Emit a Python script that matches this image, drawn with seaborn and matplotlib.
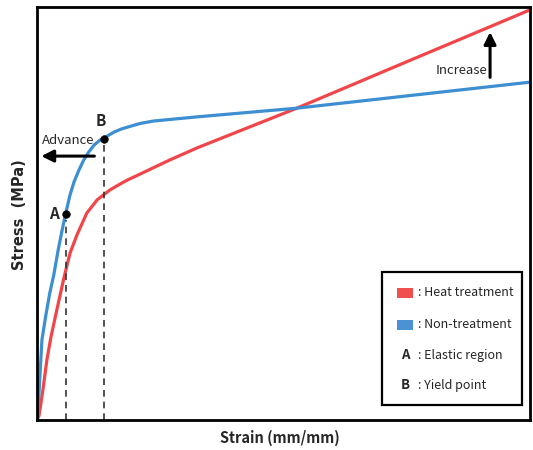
import matplotlib
matplotlib.use("Agg")
import matplotlib.pyplot as plt
from matplotlib.patches import Rectangle
import seaborn as sns
import pandas as pd

sns.set_theme(style="white")
plt.rcParams['font.family'] = ['Noto Sans CJK KR', 'DejaVu Sans']

# Heat treatment curve (normalized strain, normalized stress)
heat_strain = [0.0, 0.4, 1.2, 2.0, 2.8, 3.7, 4.7, 5.5, 6.7, 8.1, 10.1, 12.2, 13.6, 14.8,
               16.8, 18.5, 20.3, 27.0, 32.5, 52.7, 76.3, 100.0]
heat_stress = [0.0, 1.0, 7.3, 14.5, 19.9, 24.9, 30.3, 34.6, 40.4, 44.8, 50.1, 53.3, 54.6, 55.7,
               57.1, 58.2, 59.2, 63.0, 65.9, 75.5, 87.4, 99.3]

# Non-treatment curve
non_strain = [0.0, 0.2, 0.4, 1.0, 1.8, 2.6, 3.4, 4.3, 5.1, 5.8, 6.7, 7.5, 8.5, 9.5, 10.5,
              11.6, 12.6, 13.6, 15.6, 17.2, 18.9, 20.9, 23.7, 32.5, 52.7, 100.0]
non_stress = [0.0, 2.4, 6.5, 19.4, 25.4, 30.8, 35.1, 41.2, 46.0, 49.9, 54.5, 57.6, 60.5, 63.0,
              64.9, 66.6, 67.6, 68.3, 69.7, 70.5, 71.1, 71.8, 72.4, 73.4, 75.5, 81.8]

# Marked points
point_labels = ["A", "B"]
point_strain = [5.8, 13.6]
point_stress = [49.9, 68.1]

legend_labels = [": Heat treatment", ": Non-treatment", ": Elastic region", ": Yield point"]

red = "#f0464a"
blue = "#3d8fd1"

df = pd.concat([
    pd.DataFrame({"strain": heat_strain, "stress": heat_stress, "series": "Heat treatment"}),
    pd.DataFrame({"strain": non_strain, "stress": non_stress, "series": "Non-treatment"}),
])

fig = plt.figure(figsize=(5.33, 4.5), dpi=100)
ax = fig.add_axes([37/533, 30/450, 493/533, 413/450])

sns.lineplot(data=df, x="strain", y="stress", hue="series",
             palette={"Heat treatment": red, "Non-treatment": blue},
             linewidth=2.3, legend=False, ax=ax, sort=False)

ax.set_xlim(0, 100)
ax.set_ylim(0, 100)
ax.set_xticks([])
ax.set_yticks([])
for s in ax.spines.values():
    s.set_linewidth(2.0)
    s.set_color("black")

# dashed drop lines and points
for xs, ys in zip(point_strain, point_stress):
    ax.vlines(xs, 0, ys - 1.5, colors="#333333", linestyles=(0, (4, 3)), linewidth=1.2)
sns.scatterplot(x=point_strain, y=point_stress, color="black", s=30, ax=ax, zorder=5,
                edgecolor="black", legend=False)

ax.text(point_strain[0] - 1.4, point_stress[0], point_labels[0], ha="right", va="center",
        fontsize=11, fontweight="bold")
ax.text(point_strain[1] - 0.6, point_stress[1] + 4.2, point_labels[1], ha="center", va="center",
        fontsize=11, fontweight="bold")

# Advance arrow
ax.text(6.3, 67.6, "Advance", ha="center", va="center", fontsize=9.5)
ax.annotate("", xy=(0.3, 63.9), xytext=(12.2, 63.9),
            arrowprops=dict(arrowstyle="-|>,head_length=0.6,head_width=0.3", color="black", lw=2.2))

# Increase arrow
ax.text(86.0, 84.7, "Increase", ha="center", va="center", fontsize=9.5)
ax.annotate("", xy=(91.9, 94.6), xytext=(91.9, 82.3),
            arrowprops=dict(arrowstyle="-|>,head_length=0.6,head_width=0.3", color="black", lw=2.2))

# Legend box (axes fraction coordinates)
ax.add_patch(Rectangle((0.700, 0.036), 0.284, 0.322, transform=ax.transAxes,
                       facecolor="white", edgecolor="black", linewidth=1.6, zorder=6))
rows_y = [(420 - 293) / 413, (420 - 325) / 413, (420 - 355) / 413, (420 - 385) / 413]
ax.add_patch(Rectangle(((397 - 37) / 493, rows_y[0] - 0.012), 16 / 493, 0.024,
                       transform=ax.transAxes, facecolor="#f05050", edgecolor="none", zorder=7))
ax.add_patch(Rectangle(((397 - 37) / 493, rows_y[1] - 0.012), 16 / 493, 0.024,
                       transform=ax.transAxes, facecolor="#4a92d2", edgecolor="none", zorder=7))
ax.text((405 - 37) / 493, rows_y[2], point_labels[0], transform=ax.transAxes, ha="center",
        va="center", fontsize=9.5, fontweight="bold", zorder=7)
ax.text((405 - 37) / 493, rows_y[3], point_labels[1], transform=ax.transAxes, ha="center",
        va="center", fontsize=9.5, fontweight="bold", zorder=7)
for yy, lab in zip(rows_y, legend_labels):
    ax.text((418 - 37) / 493, yy, lab, transform=ax.transAxes, ha="left", va="center",
            fontsize=9, zorder=7)

ax.set_xlabel("Strain (mm/mm)", fontsize=10.5, fontweight="bold")
ax.xaxis.set_label_coords((280 - 37) / 493, -(438 - 420) / 413)
ax.xaxis.label.set_va("center")
ax.set_ylabel("Stress  (MPa)", fontsize=10.5, fontweight="bold", family="DejaVu Sans")
ax.yaxis.set_label_coords(-(37 - 20) / 493, (420 - 215) / 413)
ax.yaxis.label.set_va("center")

fig.savefig("out.png", dpi=100)
